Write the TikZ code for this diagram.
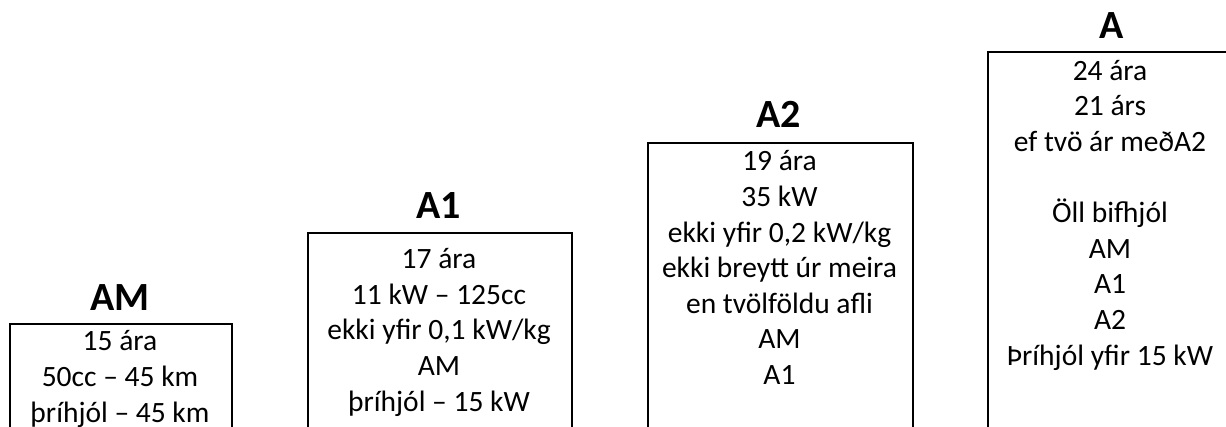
\documentclass[tikz,border=0pt]{standalone}
\usepackage{fontspec}
\setmainfont{Carlito}
\begin{document}
\begin{tikzpicture}[x=1pt,y=-1pt,
  box/.style={draw, line width=2pt, rectangle, anchor=north west, inner sep=0pt, minimum height=450pt},
  title/.style={font=\fontsize{40}{46}\selectfont\bfseries, anchor=base, inner sep=0pt},
  body/.style={font=\fontsize{29.5}{35.6}\selectfont, align=center, anchor=base, inner sep=0pt}]
\useasboundingbox (0,0) rectangle (1226,426);
\clip (0,0) rectangle (1226,426);
% boxes (open at the bottom edge of the picture)
\node[box, minimum width=222pt] (boxAM) at (9,323) {};
\node[box, minimum width=264pt] (boxA1) at (307,232) {};
\node[box, minimum width=265pt] (boxA2) at (647,142) {};
\node[box, minimum width=260pt] (boxA) at (987,51) {};
% titles
\node[title] (tAM) at (120,310) {AM};
\node[title] (tA1) at (439,218) {A1};
\node[title] (tA2) at (779,127) {A2};
\node[title] (tA) at (1112,38) {A};
% contents (anchored at the baseline of the last line)
\node[body] (cAM) at (120,422) {15 ára\\50cc – 45 km\\þríhjól – 45 km};
\node[body] (cA1) at (439,411) {17 ára\\11 kW – 125cc\\ekki yfir 0,1 kW/kg\\AM\\þríhjól – 15 kW};
\node[body] (cA2) at (779.5,384.5) {19 ára\\35 kW\\ekki yfir 0,2 kW/kg\\ekki breytt úr meira\\en tvölföldu afli\\AM\\A1};
\node[body] (cA) at (1110,365) {24 ára\\21 árs\\ef tvö ár meðA2\\~\\Öll bifhjól\\AM\\A1\\A2\\Þríhjól yfir 15 kW};
\end{tikzpicture}
\end{document}
